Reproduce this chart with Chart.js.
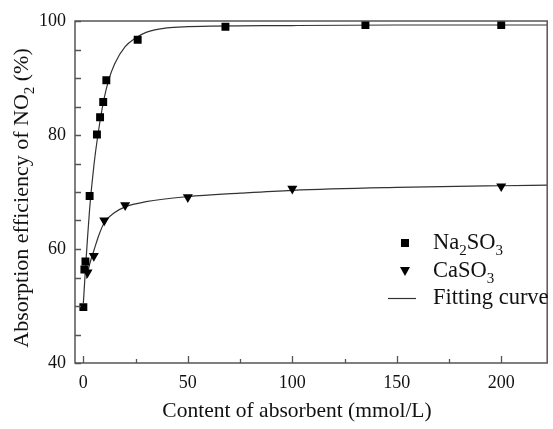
<!DOCTYPE html>
<html>
<head>
<meta charset="utf-8">
<script src="https://cdn.jsdelivr.net/npm/chart.js@4/dist/chart.umd.min.js"></script>
<style>
  html, body { margin: 0; padding: 0; background: #fff; }
</style>
</head>
<body>
<canvas id="absorbChart" width="553" height="429"></canvas>
<script>
// measured points
const naConc = [0, 0.5, 1, 3, 6.5, 8, 9.5, 11, 26, 68, 135, 200];
const naEff = [49.8, 56.4, 57.8, 69.3, 80.1, 83.1, 85.8, 89.6, 96.7, 99.0, 99.3, 99.3];
const caConc = [2, 5, 10, 20, 50, 100, 200];
const caEff = [55.9, 58.8, 65.0, 67.7, 69.1, 70.6, 71.0];

// fitting curves
const naFitX = [0, 1, 2, 3, 4, 5, 6, 8, 10, 12, 15, 20, 25, 30, 40, 50, 100, 150, 222];
const naFitY = [50.5, 56.5, 62, 67, 71, 74.5, 77.5, 82.5, 86.5, 89.5, 92.5, 95.5, 97, 98, 98.8, 99.0, 99.2, 99.3, 99.3];
const caFitX = [1.5, 2, 3, 4, 5, 7.5, 10, 15, 20, 30, 50, 75, 100, 150, 200, 222];
const caFitY = [54.8, 55.8, 57.3, 58.6, 59.7, 62.5, 64.6, 66.4, 67.4, 68.3, 69.2, 69.8, 70.3, 70.8, 71.1, 71.2];

const xTickValues = [0, 25, 50, 75, 100, 125, 150, 175, 200];
const seriesNames = ["Na₂SO₃", "CaSO₃", "Fitting curve"];
const xTitle = "Content of absorbent (mmol/L)";
const yTitle = "Absorption efficiency of NO₂ (%)";

const SERIF = "'Liberation Serif', 'Times New Roman', serif";
const INK = "#111";

function toPoints(xs, ys) {
    return xs.map((x, i) => ({ x: x, y: ys[i] }));
}

// draws text, turning unicode subscript digits into small lowered digits
function drawRich(ctx, text, x, y, size, align) {
    const parts = [];
    for (const ch of text) {
        const code = ch.codePointAt(0);
        if (code >= 0x2080 && code <= 0x2089) parts.push({ t: String(code - 0x2080), sub: true });
        else parts.push({ t: ch, sub: false });
    }
    const subSize = Math.round(size * 0.68);
    let total = 0;
    parts.forEach(p => {
        ctx.font = (p.sub ? subSize : size) + "px " + SERIF;
        p.w = ctx.measureText(p.t).width;
        total += p.w;
    });
    let cx = align === "center" ? x - total / 2 : x;
    ctx.textAlign = "left";
    ctx.textBaseline = "middle";
    parts.forEach(p => {
        ctx.font = (p.sub ? subSize : size) + "px " + SERIF;
        ctx.fillText(p.t, cx, p.sub ? y + size * 0.36 : y);
        cx += p.w;
    });
}

const framePlugin = {
    id: "frame",
    afterDraw(chart) {
        const ctx = chart.ctx;
        const a = chart.chartArea;
        const xs = chart.scales.x;
        const ys = chart.scales.y;
        ctx.save();
        ctx.strokeStyle = "#555";
        ctx.lineWidth = 1.5;
        ctx.strokeRect(a.left, a.top, a.right - a.left, a.bottom - a.top);

        // inward ticks
        ctx.lineWidth = 1.3;
        ctx.beginPath();
        xs.ticks.forEach(t => {
            const px = Math.round(xs.getPixelForValue(t.value)) + 0.5;
            const len = t.value % 50 === 0 ? 7 : 4;
            ctx.moveTo(px, a.bottom);
            ctx.lineTo(px, a.bottom - len);
        });
        ys.ticks.forEach(t => {
            const py = Math.round(ys.getPixelForValue(t.value)) + 0.5;
            ctx.moveTo(a.left, py);
            ctx.lineTo(a.left + 6, py);
        });
        ctx.stroke();

        // axis titles
        ctx.fillStyle = INK;
        drawRich(ctx, xTitle, 297, 411, 21.5, "center");
        ctx.save();
        ctx.translate(22, 198);
        ctx.rotate(-Math.PI / 2);
        drawRich(ctx, yTitle, 0, 0, 22, "center");
        ctx.restore();

        // legend inside the plot
        const mx = 405, tx = 433;
        const rows = [243, 271, 298];
        ctx.fillStyle = "#000";
        ctx.fillRect(mx - 4, rows[0] - 4, 8, 8);
        ctx.beginPath();
        ctx.moveTo(mx - 5, rows[1] - 4);
        ctx.lineTo(mx + 5, rows[1] - 4);
        ctx.lineTo(mx, rows[1] + 5);
        ctx.closePath();
        ctx.fill();
        ctx.strokeStyle = "#333";
        ctx.lineWidth = 1.2;
        ctx.beginPath();
        ctx.moveTo(388, rows[2] + 0.5);
        ctx.lineTo(416, rows[2] + 0.5);
        ctx.stroke();
        ctx.fillStyle = INK;
        seriesNames.forEach((name, i) => drawRich(ctx, name, tx, rows[i], 22.5, "left"));
        ctx.restore();
    }
};

new Chart(document.getElementById("absorbChart"), {
    type: "scatter",
    data: {
        datasets: [
            {
                label: seriesNames[0],
                data: toPoints(naConc, naEff),
                pointStyle: "rect",
                pointRadius: 5.6,
                backgroundColor: "#000",
                borderColor: "#000",
                borderWidth: 0,
                order: 0,
            },
            {
                label: seriesNames[1],
                data: toPoints(caConc, caEff),
                pointStyle: "triangle",
                rotation: 180,
                pointRadius: 5.8,
                backgroundColor: "#000",
                borderColor: "#000",
                borderWidth: 0,
                order: 0,
            },
            {
                label: seriesNames[2],
                data: toPoints(naFitX, naFitY),
                showLine: true,
                pointRadius: 0,
                borderColor: "#333",
                borderWidth: 1.2,
                cubicInterpolationMode: "monotone",
                order: 1,
            },
            {
                label: seriesNames[2] + " (CaSO₃)",
                data: toPoints(caFitX, caFitY),
                showLine: true,
                pointRadius: 0,
                borderColor: "#333",
                borderWidth: 1.2,
                cubicInterpolationMode: "monotone",
                order: 1,
            },
        ],
    },
    options: {
        responsive: false,
        animation: false,
        layout: { padding: { left: 30, right: 3, top: 21, bottom: 0 } },
        plugins: {
            legend: { display: false },
            tooltip: { enabled: false },
        },
        scales: {
            x: {
                type: "linear",
                min: -4,
                max: 222,
                grid: { display: false, drawTicks: false },
                border: { display: false },
                afterBuildTicks: (scale) => { scale.ticks = xTickValues.map(v => ({ value: v })); },
                afterFit: (scale) => { scale.height = 66; },
                ticks: {
                    autoSkip: false,
                    maxRotation: 0,
                    padding: 9,
                    color: INK,
                    font: { family: SERIF, size: 18 },
                    callback: (v) => (v % 50 === 0 ? v : ""),
                },
            },
            y: {
                min: 40,
                max: 100,
                grid: { display: false, drawTicks: false },
                border: { display: false },
                afterFit: (scale) => { scale.width = 45; },
                ticks: {
                    stepSize: 5,
                    autoSkip: false,
                    padding: 9,
                    color: INK,
                    font: { family: SERIF, size: 18 },
                    callback: (v) => (v % 20 === 0 ? v : ""),
                },
            },
        },
    },
    plugins: [framePlugin],
});
</script>
</body>
</html>
